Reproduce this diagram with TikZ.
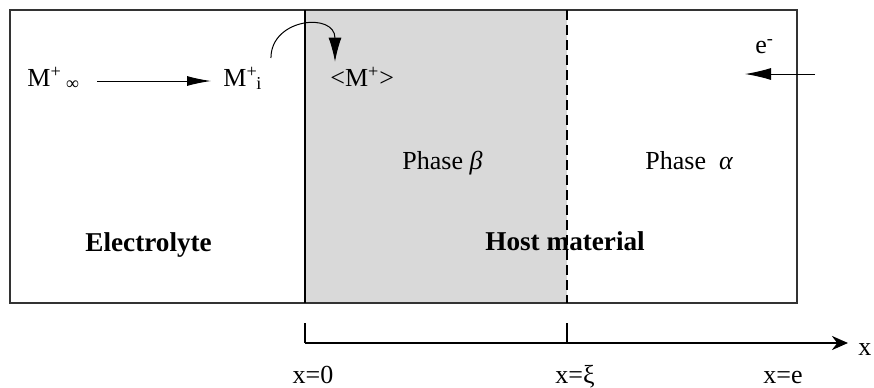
\documentclass[tikz,border=0pt]{standalone}
\usepackage{fontspec}
\setmainfont{Liberation Serif}
\usetikzlibrary{arrows.meta,calc}
\definecolor{phasegray}{RGB}{217,217,217}
\tikzset{
  txt/.style={inner sep=0pt, anchor=base west, font=\fontsize{13}{15}\selectfont},
  bold/.style={txt, font=\fontsize{13.6}{16}\selectfont\bfseries},
  lbl/.style={inner sep=0pt, anchor=base, font=\fontsize{13}{15}\selectfont},
  thinarr/.style={line width=0.5pt, -{Latex[length=12pt,width=5pt]}},
  axisline/.style={line width=1.2pt},
}
\begin{document}
\begin{tikzpicture}[x=0.5pt,y=-0.5pt]
\useasboundingbox (0,0) rectangle (874,387);
% shaded phase beta
\fill[phasegray] (305,10) rectangle (567,303);
% text
\node[txt] (minf) at (27,86) {M\textsuperscript{+}\,\textsubscript{∞}};
\node[txt] (mi) at (223,86) {M\textsuperscript{+}\kern-0.05em\textsubscript{i}};
\node[txt] (mb) at (330,86) {<M\textsuperscript{+}>};
\node[txt] (em) at (755,53) {e\textsuperscript{-}};
\node[txt] (pb) at (402,169) {Phase \textit{β}};
\node[txt] (pa) at (645,169) {Phase \ \textit{α}};
\node[bold] (el) at (85,251) {Electrolyte};
\node[bold] (hm) at (485,250) {Host material};
% box and interfaces
\draw[line width=0.75pt, black!80] (10,10) rectangle (797,303);
\draw[line width=0.6pt] (305,10) -- (305,303);
\draw[line width=0.6pt, dash pattern=on 5pt off 2.5pt] (567,10) -- (567,303);
% arrows
\draw[thinarr] ($(minf.base east)+(17,-5)$) -- ($(mi.base west)+(-12,-5)$);
\draw[line width=0.5pt, -{Latex[length=12pt,width=6.5pt]}]
  ($(mi.base east)+(8,-28)$) .. controls (271,18) and (335,12) .. ($(mb.north west)+(5,-5)$);
\draw[line width=0.5pt, -{Latex[length=13pt,width=6pt]}]
  ($(em.base west)+(60,21)$) -- ($(em.base west)+(-10,21)$);
% axis
\coordinate (o) at (305,343);
\coordinate (xi) at (567,343);
\coordinate (xend) at (848,343);
\draw[axisline, -{Stealth[length=8pt,width=7pt]}] (o) -- (xend);
\draw[axisline] (o) -- ++(0,-20);
\draw[axisline] (xi) -- ++(0,-20);
\node[txt] (xl) at (858,355) {x};
\node[lbl] (l0) at (313,383) {x=0};
\node[lbl] (lxi) at (575,383) {x=ξ};
\node[lbl] (le) at (783,383) {x=e};
\end{tikzpicture}
\end{document}
